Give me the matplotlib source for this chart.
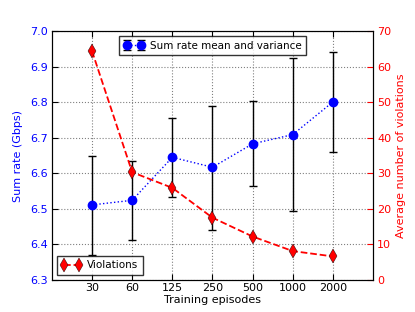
import numpy as np
import matplotlib
matplotlib.use("Agg")
from matplotlib import pyplot as plt

# data
episodes = ['30', '60', '125', '250', '500', '1000', '2000']
rate_mean = [6.511, 6.524, 6.645, 6.617, 6.683, 6.709, 6.801]
rate_low = [6.369, 6.412, 6.533, 6.441, 6.564, 6.494, 6.660]
rate_high = [6.649, 6.634, 6.755, 6.790, 6.804, 6.924, 6.942]
violations = [64.4, 30.3, 25.9, 17.5, 12.2, 8.1, 6.6]

plt.rcParams['font.family'] = 'DejaVu Sans'
plt.rcParams['font.size'] = 8
plt.rcParams['xtick.direction'] = 'in'
plt.rcParams['ytick.direction'] = 'in'

x = np.arange(len(episodes))
mean = np.array(rate_mean)
yerr = [mean - np.array(rate_low), np.array(rate_high) - mean]

fig = plt.figure(figsize=(4.15, 3.12), dpi=100)
ax1 = fig.add_axes([0.125, 0.103, 0.774, 0.797])

ax1.errorbar(x, mean, yerr=yerr, fmt='o:', color='b', ecolor='k', mfc='b', mec='b',
             ms=6, lw=1, elinewidth=1, capsize=3, capthick=1,
             label='Sum rate mean and variance')
ax1.set_xlim(-1, 7)
ax1.set_ylim(6.3, 7.0)
ax1.set_xticks(x)
ax1.set_xticklabels(episodes)
ax1.set_yticks(np.arange(6.3, 7.01, 0.1))
ax1.set_xlabel('Training episodes', fontsize=8, labelpad=1)
ax1.set_ylabel('Sum rate (Gbps)', color='b', fontsize=8, labelpad=5)
ax1.tick_params(axis='y', labelcolor='b', pad=3)
ax1.tick_params(axis='x', pad=2.5)
ax1.tick_params(top=True, length=4)
ax1.grid(True, linestyle=':', color='gray', lw=0.8)
leg1 = ax1.legend(loc='upper center', numpoints=2, fancybox=False, edgecolor='k',
                  fontsize=7.5, borderpad=0.4, handlelength=2.0, handletextpad=0.5)
leg1.get_frame().set_linewidth(1)

ax2 = ax1.twinx()
ax2.plot(x, violations, 'r--', marker='d', ms=7, mec='k', mew=0.3, lw=1.3,
         label='Violations')
ax2.set_ylim(0, 70)
ax2.set_yticks(np.arange(0, 71, 10))
ax2.set_ylabel('Average number of violations', color='r', fontsize=8, labelpad=3)
ax2.tick_params(axis='y', labelcolor='r', colors='r', length=4, direction='in', pad=3)
leg2 = ax2.legend(loc='lower left', numpoints=2, fancybox=False, edgecolor='k',
                  fontsize=7.5, borderpad=0.4, handlelength=2.0, handletextpad=0.5)
leg2.get_frame().set_linewidth(1)

fig.savefig('out.png', dpi=100, facecolor='white')
